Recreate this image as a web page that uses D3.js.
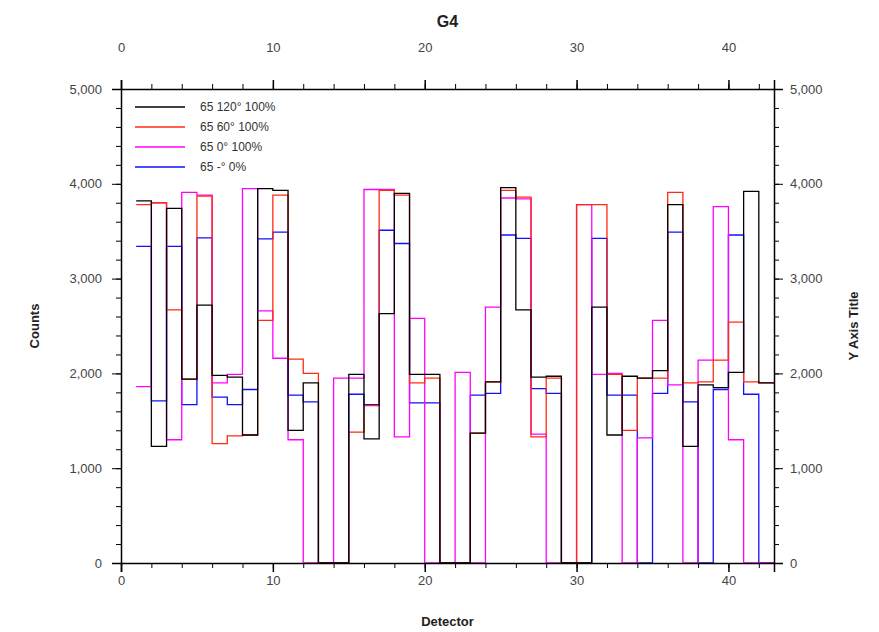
<!DOCTYPE html>
<html>

<head>
    <meta charset="utf-8">
    <style>
        body {
            margin: 0;
            background: #fff;
        }

        svg {
            font-family: 'Liberation Sans Narrow', 'Liberation Sans', Arial, sans-serif;
        }

        .tick text {
            font-size: 13px;
            fill: #444;
        }

        .domain {
            stroke: #000;
            stroke-width: 1.5;
        }

        .tick line {
            stroke: #000;
        }

        .minor .domain {
            display: none;
        }

        .minor text {
            display: none;
        }

        .title {
            font-size: 16px;
            font-weight: bold;
            fill: #222;
        }

        .axis-title {
            font-size: 13px;
            font-weight: bold;
            fill: #222;
        }

        .legend text {
            font-size: 12px;
            fill: #333;
        }
    </style>
</head>

<body>
    <svg width="879" height="632"></svg>

    <script src="https://d3js.org/d3.v7.min.js"></script>
    <script>
        // detector numbers 1..42
        let detectors = d3.range(1, 43)

        let seriesNames = ["65 120° 100%", "65 60° 100%", "65 0° 100%", "65 -° 0%"]
        let seriesColors = ["#000000", "#ff2a10", "#ff00ff", "#1010ff"]

        // counts, one value per detector
        let black = [3820, 1230, 3740, 1940, 2720, 1980, 1960, 1350, 3950, 3930,
            1400, 1900, 0, 0, 1990, 1310, 2630, 3900, 1990, 1990,
            0, 0, 1370, 1910, 3960, 2670, 1960, 1970, 0, 0,
            2700, 1350, 1970, 1950, 2030, 3780, 1230, 1880, 1850, 2010,
            3920, 1900]
        let red = [3780, 3800, 2670, 1940, 3870, 1260, 1340, 1350, 2560, 3880,
            2150, 2000, 0, 0, 1380, 1660, 3930, 3880, 1900, 1950,
            0, 0, 1370, 1910, 3930, 3860, 1330, 1950, 0, 3780,
            3780, 1990, 1400, 1950, 1950, 3910, 1900, 1910, 2140, 2540,
            1910, 1900]
        let magenta = [1860, 3800, 1300, 3910, 3880, 1900, 1990, 3950, 2660, 2160,
            1300, 0, 0, 1950, 1950, 3940, 3940, 1330, 2580, 0,
            0, 2010, 0, 2700, 3850, 3840, 1360, 0, 0, 3780,
            1990, 2000, 0, 1320, 2560, 1880, 0, 2140, 3760, 1300,
            0, 0]
        let blue = [3340, 1710, 3340, 1670, 3430, 1750, 1670, 1830, 3420, 3490,
            1770, 1700, 0, 0, 1780, 1670, 3510, 3370, 1690, 1690,
            0, 0, 1770, 1790, 3460, 3425, 1840, 1790, 0, 0,
            3425, 1770, 1770, 0, 1790, 3490, 1700, 0, 1830, 3460,
            1780, 0]

        let xTicks = [0, 10, 20, 30, 40]
        let yTicks = [0, 1000, 2000, 3000, 4000, 5000]

        let svg = d3.select("svg")

        let margin = { top: 89, right: 105, bottom: 69, left: 121 }
        let width = 879
        let height = 632

        let x = d3.scaleLinear()
            .domain([0, 43])
            .range([margin.left, width - margin.right])

        let y = d3.scaleLinear()
            .domain([0, 5000])
            .range([height - margin.bottom, margin.top])

        let color = d3.scaleOrdinal()
            .domain(seriesNames)
            .range(seriesColors)

        let allSeries = [black, red, magenta, blue].map((vals, i) => {
            let pts = detectors.map((d, j) => ({ det: d, v: vals[j] }))
            // close the last bin
            pts.push({ det: detectors[detectors.length - 1] + 1, v: vals[vals.length - 1] })
            return { name: seriesNames[i], pts: pts }
        })

        let line = d3.line()
            .curve(d3.curveStepAfter)
            .x(d => x(d.det))
            .y(d => y(d.v))

        // draw the steps first, axes on top
        svg.append("g")
            .attr("class", "lines")
            .selectAll("path")
            .data(allSeries.slice().reverse())
            .join("path")
            .attr("fill", "none")
            .attr("stroke", d => color(d.name))
            .attr("stroke-width", 1.3)
            .attr("d", d => line(d.pts))

        // minor ticks
        let xMinor = d3.range(0, 44, 2)
        let yMinor = d3.range(0, 5001, 200)

        svg.append("g")
            .attr("class", "minor")
            .attr("transform", `translate(0,${y(0)})`)
            .call(d3.axisBottom(x).tickValues(xMinor).tickSize(5))
        svg.append("g")
            .attr("class", "minor")
            .attr("transform", `translate(0,${y(5000)})`)
            .call(d3.axisTop(x).tickValues(xMinor).tickSize(5))
        svg.append("g")
            .attr("class", "minor")
            .attr("transform", `translate(${x(0)},0)`)
            .call(d3.axisLeft(y).tickValues(yMinor).tickSize(5))
        svg.append("g")
            .attr("class", "minor")
            .attr("transform", `translate(${x(43)},0)`)
            .call(d3.axisRight(y).tickValues(yMinor).tickSize(5))

        // main axes
        svg.append("g")
            .attr("class", "x axis")
            .attr("transform", `translate(0,${y(0)})`)
            .call(d3.axisBottom(x).tickValues(xTicks).tickSize(9).tickPadding(4).tickFormat(d3.format("d")))
            .call(g => g.selectAll(".tick line").attr("stroke-width", 1.5))

        svg.append("g")
            .attr("class", "x2 axis")
            .attr("transform", `translate(0,${y(5000)})`)
            .call(d3.axisTop(x).tickValues(xTicks).tickSize(9).tickPadding(28).tickFormat(d3.format("d")))
            .call(g => g.selectAll(".tick line").attr("stroke-width", 1.5))

        svg.append("g")
            .attr("class", "y axis")
            .attr("transform", `translate(${x(0)},0)`)
            .call(d3.axisLeft(y).tickValues(yTicks).tickSize(9).tickPadding(10).tickFormat(d3.format(",")))

        svg.append("g")
            .attr("class", "y2 axis")
            .attr("transform", `translate(${x(43)},0)`)
            .call(d3.axisRight(y).tickValues(yTicks).tickSize(9).tickPadding(7).tickFormat(d3.format(",")))

        // titles
        svg.append("text")
            .attr("class", "title")
            .attr("x", (x(0) + x(43)) / 2)
            .attr("y", 27)
            .attr("text-anchor", "middle")
            .text("G4")

        svg.append("text")
            .attr("class", "axis-title")
            .attr("x", (x(0) + x(43)) / 2)
            .attr("y", 626)
            .attr("text-anchor", "middle")
            .text("Detector")

        svg.append("text")
            .attr("class", "axis-title")
            .attr("transform", `translate(39,${(y(0) + y(5000)) / 2}) rotate(-90)`)
            .attr("text-anchor", "middle")
            .text("Counts")

        svg.append("text")
            .attr("class", "axis-title")
            .attr("transform", `translate(858,${(y(0) + y(5000)) / 2}) rotate(-90)`)
            .attr("text-anchor", "middle")
            .text("Y Axis Title")

        // legend
        let legend = svg.append("g")
            .attr("class", "legend")
            .selectAll("g")
            .data(seriesNames)
            .join("g")
            .attr("transform", (d, i) => `translate(135,${107 + i * 20})`)

        legend.append("line")
            .attr("x1", 0)
            .attr("x2", 50)
            .attr("stroke", d => color(d))
            .attr("stroke-width", 1.5)

        legend.append("text")
            .attr("x", 65)
            .attr("dy", "0.35em")
            .text(d => d)
    </script>
</body>

</html>
